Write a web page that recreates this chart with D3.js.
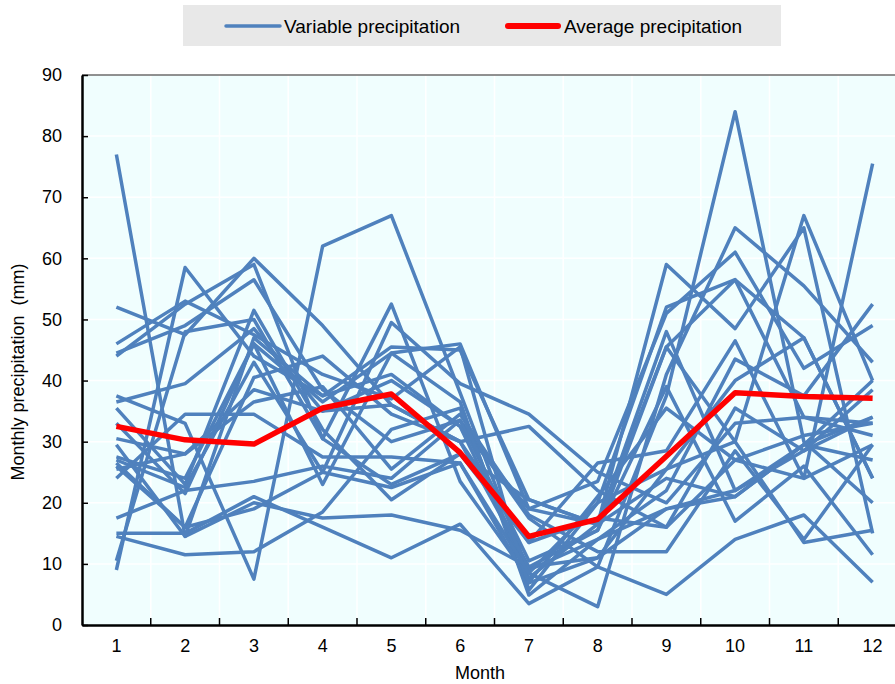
<!DOCTYPE html>
<html>
<head>
<meta charset="utf-8">
<script src="https://cdn.jsdelivr.net/npm/d3@7/dist/d3.min.js"></script>
<style>
  body { margin: 0; background: #fff; }
  svg text { font-family: "Liberation Sans Narrow", "Arial Narrow", "Liberation Sans", sans-serif; fill: #000; }
</style>
</head>
<body>
<svg id="chart" width="895" height="684"></svg>
<script>
var months = [1, 2, 3, 4, 5, 6, 7, 8, 9, 10, 11, 12];
var yTicks = [0, 10, 20, 30, 40, 50, 60, 70, 80, 90];

// one array per year of monthly precipitation (mm)
var s01 = [77, 14.5, 20, 17.5, 18, 15.5, 9.5, 11, 19, 22, 29.5, 34];
var s02 = [9, 58.5, 44, 37.5, 45.5, 45, 20.5, 16.5, 24, 21, 29.5, 27];
var s03 = [52, 47.5, 60, 49, 36, 30, 9.5, 15.5, 45.5, 30, 67, 40];
var s04 = [46, 53, 47.5, 41, 37, 45.5, 5.7, 20, 52, 56.5, 47, 24];
var s05 = [44.5, 49, 56.5, 38.5, 30, 33.5, 17.5, 9.5, 37.5, 84, 30, 20];
var s06 = [44, 52.5, 59, 30.5, 52.5, 23.5, 7.7, 16.5, 59, 48.5, 65, 15];
var s07 = [37.5, 33, 7.5, 62, 67, 38, 8.5, 3, 41, 65, 55.5, 43];
var s08 = [36.5, 39.5, 48.5, 35, 40, 32.5, 19, 23.5, 51, 61, 42, 49];
var s09 = [35.5, 23, 51.5, 32, 20.5, 28, 13.5, 26.5, 28.5, 46.5, 24, 75.5];
var s10 = [27.5, 24, 46, 23, 44.5, 36.5, 4.9, 14, 22, 43.5, 37.5, 52.5];
var s11 = [27, 22.5, 43, 25, 49.5, 39.5, 34.5, 25, 20, 33, 34, 31];
var s12 = [26.5, 16, 40.5, 44, 34.5, 30, 32.5, 22, 16, 35.5, 28.5, 38.5];
var s13 = [25.5, 28, 36.5, 39, 25.5, 34.5, 18, 12, 12, 28.5, 14, 29.5];
var s14 = [24, 34.5, 34.5, 27.5, 27.5, 26.5, 7, 21, 35.5, 27, 31, 33];
var s15 = [17.5, 22, 23.5, 26, 24, 33.5, 10.5, 15.5, 39, 17, 26, 11.5];
var s16 = [15, 15, 21, 16, 11, 16.5, 3.5, 9.5, 5, 14, 18, 7];
var s17 = [14.5, 11.5, 12, 18.5, 32, 35.5, 6.9, 11, 25.5, 30, 13.5, 15.5];
var s18 = [10.5, 48, 50, 30.5, 23, 28, 20.5, 16.5, 48, 22, 28.5, 34];
var s19 = [29.5, 14.5, 47, 37.5, 41, 32.5, 9, 14, 19, 21, 29.5, 40];
var s20 = [30.5, 28, 38.5, 35, 36, 30, 13.5, 17.5, 16, 27, 24, 29.5];
var s21 = [26, 16, 19, 25, 22.5, 26.5, 8.5, 20, 25.5, 40, 47, 24];
var s22 = [33, 21.5, 46, 36.5, 44.5, 46, 19, 16.5, 45.5, 56.5, 34, 33];
var variable = [s01, s02, s03, s04, s05, s06, s07, s08, s09, s10, s11,
                s12, s13, s14, s15, s16, s17, s18, s19, s20, s21, s22];

var average = [32.5, 30.3, 29.6, 35.5, 37.8, 28.2, 14.5, 17.3, 27.6, 38, 37.4, 37.1];

var margin = {top: 75, left: 82, bottom: 59},
    width = 825,
    height = 684 - margin.top - margin.bottom;

var svg = d3.select("#chart");

// legend
var legend = svg.append("g");
legend.append("rect")
    .attr("x", 183).attr("y", 5)
    .attr("width", 598).attr("height", 41)
    .attr("fill", "#e8e8e8");
legend.append("line")
    .attr("x1", 226).attr("x2", 280).attr("y1", 26).attr("y2", 26)
    .attr("stroke", "#4f81bd").attr("stroke-width", 3.5).attr("stroke-linecap", "round");
legend.append("text").attr("x", 284).attr("y", 33)
    .attr("font-size", 19).text("Variable precipitation");
legend.append("line")
    .attr("x1", 508).attr("x2", 558).attr("y1", 26).attr("y2", 26)
    .attr("stroke", "#ff0000").attr("stroke-width", 6).attr("stroke-linecap", "round");
legend.append("text").attr("x", 564).attr("y", 33)
    .attr("font-size", 19).text("Average precipitation");

var g = svg.append("g")
    .attr("transform", "translate(" + margin.left + "," + margin.top + ")");

var x = d3.scaleBand().domain(months).range([0, width]);
var y = d3.scaleLinear().domain([0, 90]).range([height, 0]);

g.append("rect")
    .attr("width", width).attr("height", height)
    .attr("fill", "#f0fefe");

// white grid
g.selectAll(".hgrid").data(yTicks.slice(1)).enter().append("line")
    .attr("x1", 0).attr("x2", width)
    .attr("y1", function(d) { return y(d); })
    .attr("y2", function(d) { return y(d); })
    .attr("stroke", "#fff").attr("stroke-width", 1.5);
g.selectAll(".vgrid").data(months.slice(1)).enter().append("line")
    .attr("x1", function(d) { return x(d); })
    .attr("x2", function(d) { return x(d); })
    .attr("y1", 0).attr("y2", height)
    .attr("stroke", "#fff").attr("stroke-width", 1.5);

var line = d3.line()
    .x(function(d, i) { return x(months[i]) + x.bandwidth() / 2; })
    .y(function(d) { return y(d); });

g.selectAll(".var").data(variable).enter().append("path")
    .attr("d", line)
    .attr("fill", "none")
    .attr("stroke", "#4f81bd")
    .attr("stroke-width", 3.5)
    .attr("stroke-linejoin", "round");

g.append("path")
    .attr("d", line(average))
    .attr("fill", "none")
    .attr("stroke", "#ff0000")
    .attr("stroke-width", 5.5)
    .attr("stroke-linejoin", "round");

// top frame line
g.append("line").attr("x1", 0).attr("x2", width).attr("y1", 0).attr("y2", 0)
    .attr("stroke", "#222").attr("stroke-width", 1);

// axes, ticks point inward
var yAxis = g.append("g")
    .call(d3.axisLeft(y).tickValues(yTicks).tickSizeInner(-6).tickSizeOuter(0).tickPadding(20));
var xAxis = g.append("g")
    .attr("transform", "translate(0," + height + ")")
    .call(d3.axisBottom(x).tickSize(0).tickPadding(14));

// x ticks sit on the band boundaries
xAxis.selectAll(".edge").data(months.slice(1)).enter().append("line")
    .attr("x1", function(d) { return x(d); })
    .attr("x2", function(d) { return x(d); })
    .attr("y1", 0).attr("y2", -7)
    .attr("stroke", "#000").attr("stroke-width", 1.5);

[yAxis, xAxis].forEach(function(a) {
  a.select(".domain").attr("stroke", "#000").attr("stroke-width", 2.5);
  a.selectAll(".tick line").attr("stroke", "#000").attr("stroke-width", 1.5);
  a.selectAll("text").attr("font-size", 18).attr("font-family", null).attr("fill", "#000");
});

svg.append("text")
    .attr("x", 480).attr("y", 679)
    .attr("text-anchor", "middle").attr("font-size", 18)
    .text("Month");

svg.append("text")
    .attr("transform", "translate(24,372) rotate(-90)")
    .attr("text-anchor", "middle").attr("font-size", 18)
    .attr("xml:space", "preserve")
    .text("Monthly precipitation  (mm)");
</script>
</body>
</html>
